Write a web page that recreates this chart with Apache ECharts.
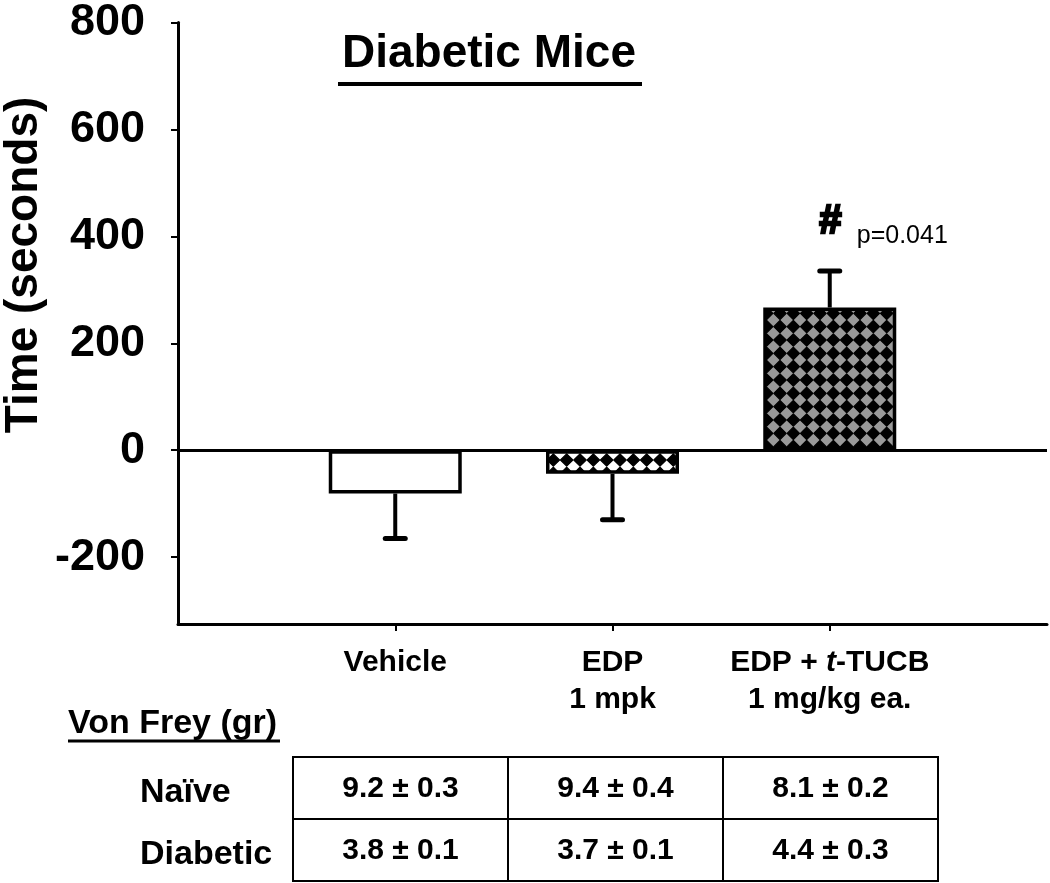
<!DOCTYPE html>
<html><head><meta charset="utf-8">
<script src="https://cdn.jsdelivr.net/npm/echarts@6/dist/echarts.min.js"></script>
<style>html,body{margin:0;padding:0;background:#fff}#c{width:1050px;height:883px}</style>
</head><body><div id="c"></div>
<script>
// ---- data ----
const categories = ['Vehicle', 'EDP\n1 mpk', 'EDP + t-TUCB\n1 mg/kg ea.'];
const meanValues = [-81, -44, 267];
const semValues = [84, 86, 68];
const yTicks = [-200, 0, 200, 400, 600, 800];
const significance = ['', '', '#'];
const pValues = ['', '', 'p=0.041'];
const tableTitle = 'Von Frey (gr)';
const tableRows = ['Naïve', 'Diabetic'];
const naiveVonFrey = ['9.2 ± 0.3', '9.4 ± 0.4', '8.1 ± 0.2'];
const diabeticVonFrey = ['3.8 ± 0.1', '3.7 ± 0.1', '4.4 ± 0.3'];
const chartTitle = 'Diabetic Mice';
const yName = 'Time (seconds)';

const FONT = "'Liberation Sans', Arial, Helvetica, sans-serif";

// rotated-checkerboard (diamond) fill pattern
function makePattern(bg, fg, cell, reps) {
  const size = Math.round(cell * reps);
  const c = document.createElement('canvas');
  c.width = size; c.height = size;
  const g = c.getContext('2d');
  g.fillStyle = bg; g.fillRect(0, 0, size, size);
  g.fillStyle = fg; g.strokeStyle = fg; g.lineJoin = 'round'; g.lineWidth = 1.2;
  const h = cell / 2;
  for (let i = 0; i < reps; i++) {
    for (let j = 0; j < reps; j++) {
      const cx = i * cell + h, cy = j * cell + h;
      const r = h * 0.93;
      g.beginPath();
      g.moveTo(cx, cy - r); g.lineTo(cx + r, cy); g.lineTo(cx, cy + r); g.lineTo(cx - r, cy); g.closePath();
      g.fill(); g.stroke();
    }
  }
  return c;
}
const fills = [
  '#ffffff',
  { image: makePattern('#ffffff', '#000000', 40 / 3, 3), repeat: 'repeat' },
  { image: makePattern('#999999', '#000000', 40 / 3, 3), repeat: 'repeat' }
];

const axisData = [''].concat(categories, ['']);
const barData = [null].concat(meanValues.map((v, i) => ({ value: v, itemStyle: { color: fills[i] } })), [null]);
const errData = meanValues.map((v, i) => [i + 1, v, v + Math.sign(v) * semValues[i], i]);

const chart = echarts.init(document.getElementById('c'), null, { renderer: 'canvas' });

const tableLeft = 293, colW = 215, tableTop = 757, rowH = 62;
const graphics = [
  { type: 'text', x: 489, y: 54, style: { text: chartTitle, font: 'bold 46px ' + FONT, fill: '#000', textAlign: 'center', textVerticalAlign: 'middle', align: 'center', verticalAlign: 'middle' } },
  { type: 'line', shape: { x1: 338, y1: 84, x2: 642, y2: 84 }, style: { stroke: '#000', lineWidth: 4 } },
  { type: 'text', x: 24, y: 265, rotation: Math.PI / 2, style: { text: yName, font: 'bold 46px ' + FONT, fill: '#000', textAlign: 'center', textVerticalAlign: 'middle', align: 'center', verticalAlign: 'middle' } },
  { type: 'text', x: 68, y: 724, style: { text: tableTitle, font: 'bold 34px ' + FONT, fill: '#000', textAlign: 'left', textVerticalAlign: 'middle', align: 'left', verticalAlign: 'middle' } },
  { type: 'line', shape: { x1: 68, y1: 741, x2: 280, y2: 741 }, style: { stroke: '#000', lineWidth: 3 } },
  { type: 'rect', shape: { x: tableLeft, y: tableTop, width: colW * 3, height: rowH * 2 }, style: { fill: 'none', stroke: '#000', lineWidth: 2 } },
  { type: 'line', shape: { x1: tableLeft, y1: tableTop + rowH, x2: tableLeft + colW * 3, y2: tableTop + rowH }, style: { stroke: '#000', lineWidth: 2 } },
  { type: 'line', shape: { x1: tableLeft + colW, y1: tableTop, x2: tableLeft + colW, y2: tableTop + rowH * 2 }, style: { stroke: '#000', lineWidth: 2 } },
  { type: 'line', shape: { x1: tableLeft + colW * 2, y1: tableTop, x2: tableLeft + colW * 2, y2: tableTop + rowH * 2 }, style: { stroke: '#000', lineWidth: 2 } }
];
tableRows.forEach((r, ri) => {
  graphics.push({ type: 'text', x: 140, y: tableTop + rowH * ri + 36, style: { text: r, font: 'bold 34px ' + FONT, fill: '#000', textAlign: 'left', textVerticalAlign: 'middle', align: 'left', verticalAlign: 'middle' } });
  const vals = ri === 0 ? naiveVonFrey : diabeticVonFrey;
  vals.forEach((v, ci) => {
    graphics.push({ type: 'text', x: tableLeft + colW * ci + colW / 2, y: tableTop + rowH * ri + 32, style: { text: v, font: 'bold 30px ' + FONT, fill: '#000', textAlign: 'center', textVerticalAlign: 'middle', align: 'center', verticalAlign: 'middle' } });
  });
});

const option = {
  backgroundColor: '#fff',
  animation: false,
  grid: { left: 178, right: 2, top: 17, bottom: 259, containLabel: false },
  xAxis: {
    type: 'category',
    data: axisData,
    boundaryGap: false,
    axisLine: { onZero: false, lineStyle: { color: '#000', width: 3 } },
    axisTick: { show: true, length: 7, interval: (i) => i > 0 && i < axisData.length - 1, lineStyle: { color: '#000', width: 2 } },
    axisLabel: {
      interval: 0, margin: 20, color: '#000', fontFamily: FONT, fontWeight: 'bold', fontSize: 30, lineHeight: 37,
      formatter: (v) => v.replace(' t-', ' {it|t}-'),
      rich: { it: { fontStyle: 'italic', fontWeight: 'bold', fontSize: 30, fontFamily: FONT, lineHeight: 37, color: '#000' } }
    },
    splitLine: { show: false }
  },
  yAxis: {
    type: 'value', min: -325, max: 800,
    axisLine: { show: true, lineStyle: { color: '#000', width: 3 } },
    axisTick: { show: true, inside: false, length: 7, customValues: yTicks, lineStyle: { color: '#000', width: 2 } },
    axisLabel: { customValues: yTicks, margin: 33, color: '#000', fontFamily: FONT, fontWeight: 'bold', fontSize: 45 },
    splitLine: { show: false }
  },
  series: [
    {
      type: 'bar', data: barData, barWidth: 133, z: 2,
      itemStyle: { borderColor: '#000', borderWidth: 3.5 },
      markLine: { silent: true, symbol: 'none', label: { show: false }, lineStyle: { color: '#000', width: 3, type: 'solid' }, data: [{ yAxis: 0 }] }
    },
    {
      type: 'custom', data: errData, z: 3,
      encode: { x: 0, y: [1, 2] },
      renderItem: (params, api) => {
        const x = api.value(0);
        const p0 = api.coord([x, api.value(1)]);
        const p1 = api.coord([x, api.value(2)]);
        const idx = api.value(3);
        const cap = 10;
        const children = [
          { type: 'line', shape: { x1: p0[0], y1: p0[1], x2: p1[0], y2: p1[1] }, style: { stroke: '#000', lineWidth: 4 } },
          { type: 'line', shape: { x1: p1[0] - cap, y1: p1[1], x2: p1[0] + cap, y2: p1[1] }, style: { stroke: '#000', lineWidth: 5, lineCap: 'round' } }
        ];
        if (significance[idx]) {
          children.push({ type: 'text', style: { text: significance[idx], x: p1[0], y: p1[1] - 29, font: 'italic bold 40px ' + FONT, fill: '#000', stroke: '#000', lineWidth: 2.5, align: 'center', verticalAlign: 'bottom', textAlign: 'center', textVerticalAlign: 'bottom' } });
        }
        if (pValues[idx]) {
          children.push({ type: 'text', style: { text: pValues[idx], x: p1[0] + 27, y: p1[1] - 23, font: '25px ' + FONT, fill: '#000', align: 'left', verticalAlign: 'bottom', textAlign: 'left', textVerticalAlign: 'bottom' } });
        }
        return { type: 'group', children };
      }
    }
  ],
  graphic: graphics
};
chart.setOption(option);
</script>
</body></html>
